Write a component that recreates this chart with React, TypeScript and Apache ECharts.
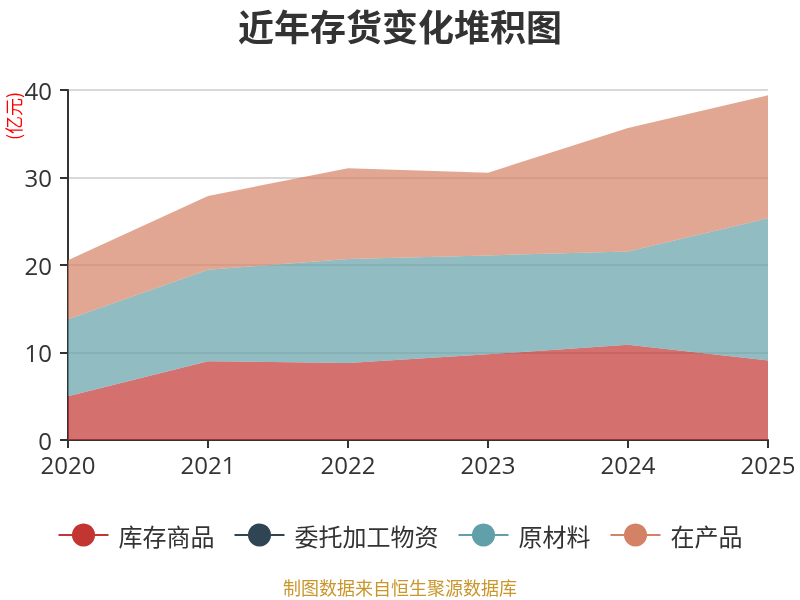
import React, { useEffect, useRef } from "react";
import * as echarts from "echarts";

const years = ["2020", "2021", "2022", "2023", "2024", "2025"];
const seriesNames = ["库存商品", "委托加工物资", "原材料", "在产品"];
const kuCun = [5.0, 9.0, 8.8, 9.8, 10.9, 9.1];
const weiTuo = [0, 0, 0, 0, 0, 0];
const yuanCai = [8.8, 10.45, 11.9, 11.3, 10.65, 16.25];
const zaiChan = [6.75, 8.45, 10.35, 9.45, 14.1, 14.05];
const colors = ["#c23531", "#2f4554", "#61a0a8", "#d48265"];

const FONT = '"Noto Sans CJK SC", "Noto Sans", sans-serif';
const NUM_FONT = '"Open Sans", "Noto Sans", sans-serif';

export default function App() {
  const ref = useRef<HTMLDivElement>(null);
  useEffect(() => {
    if (!ref.current) return;
    const chart = echarts.init(ref.current, undefined, { renderer: "svg" });
    const datas = [kuCun, weiTuo, yuanCai, zaiChan];
    chart.setOption({
      animation: false,
      color: colors,
      textStyle: { fontFamily: FONT },
      title: {
        text: "近年存货变化堆积图",
        left: "center",
        top: 2,
        textStyle: { fontSize: 36, fontWeight: "bold", color: "#333", fontFamily: FONT },
      },
      grid: { left: 68, right: 32, top: 90, bottom: 160 },
      legend: {
        data: seriesNames,
        top: 518,
        left: "center",
        itemWidth: 50,
        itemHeight: 29,
        itemGap: 19,
        textStyle: {
          fontSize: 24,
          color: "#333",
          fontFamily: FONT,
          padding: [0, 0, 0, 5],
        },
        lineStyle: { width: 2, opacity: 1 },
      },
      xAxis: {
        type: "category",
        data: years,
        boundaryGap: false,
        axisLine: { lineStyle: { color: "#333", width: 2 } },
        axisTick: { length: 8, lineStyle: { width: 2 } },
        axisLabel: { fontSize: 24, color: "#333", margin: 12, fontFamily: NUM_FONT },
      },
      yAxis: {
        type: "value",
        min: 0,
        max: 40,
        interval: 10,
        axisLine: { show: true, lineStyle: { color: "#333", width: 2 } },
        axisTick: { show: true, length: 8, lineStyle: { width: 2 } },
        axisLabel: { fontSize: 24, color: "#333", margin: 16, fontFamily: NUM_FONT },
        splitLine: { lineStyle: { color: "#ccc", width: 1.5 } },
      },
      graphic: [
        {
          type: "text",
          x: 4,
          y: 116,
          rotation: Math.PI / 2,
          style: {
            text: "(亿元)",
            fill: "#ff0000",
            fontSize: 18,
            fontFamily: FONT,
            textAlign: "center",
            textVerticalAlign: "top",
          },
        },
        {
          type: "text",
          left: "center",
          top: 578,
          style: {
            text: "制图数据来自恒生聚源数据库",
            fill: "#c9962c",
            fontSize: 18,
            fontFamily: FONT,
          },
        },
      ],
      series: seriesNames.map((name, i) => ({
        name,
        type: "line",
        stack: "total",
        data: datas[i],
        symbol: "circle",
        showSymbol: false,
        lineStyle: { width: 0, opacity: 0 },
        areaStyle: { opacity: 0.7 },
      })),
    });
    return () => chart.dispose();
  }, []);
  return (
    <div
      ref={ref}
      style={{ position: "fixed", left: 0, top: 0, width: 800, height: 600 }}
    />
  );
}
